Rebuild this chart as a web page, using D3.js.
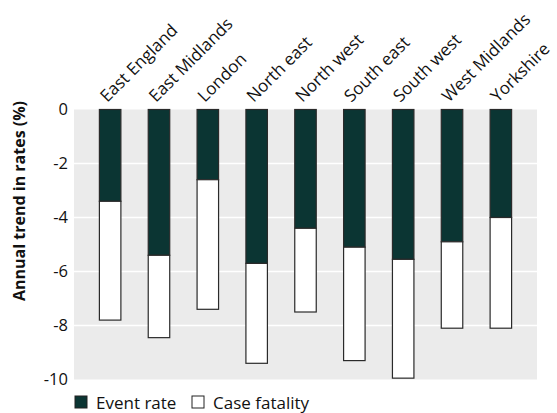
<!DOCTYPE html>
<meta charset="utf-8">
<style>
body { margin: 0; background: #fff; }
text { font-family: "Open Sans", sans-serif; fill: #111; }
</style>
<svg width="557" height="413"></svg>
<script src="https://d3js.org/d3.v7.min.js"></script>
<script>

var regions = ["East England", "East Midlands", "London", "North east", "North west",
               "South east", "South west", "West Midlands", "Yorkshire"];
// annual trend in event rate (%)
var eventRate = [-3.4, -5.4, -2.6, -5.7, -4.4, -5.1, -5.55, -4.9, -4.0];
// additional trend from case fatality (%), stacked below event rate
var caseFatality = [-4.4, -3.05, -4.8, -3.7, -3.1, -4.2, -4.4, -3.2, -4.1];
var yTicks = [0, -2, -4, -6, -8, -10];

var svg = d3.select("svg"),
    plotL = 74, plotR = 537, plotT = 109.5, plotB = 379.5;

var x = d3.scaleBand().domain(regions).range([plotL, plotR])
    .paddingInner(0.56).paddingOuter(0.52);
var y = d3.scaleLinear().domain([0, -10]).range([plotT, plotB]);

svg.append("rect")
    .attr("x", plotL).attr("y", plotT)
    .attr("width", plotR - plotL).attr("height", plotB - plotT)
    .attr("fill", "#ebebeb");

svg.append("g").selectAll("line")
  .data(yTicks.filter(d => d != 0 && d != -10))
  .enter().append("line")
    .attr("x1", plotL).attr("x2", plotR)
    .attr("y1", d => y(d)).attr("y2", d => y(d))
    .attr("stroke", "#fff").attr("stroke-width", 1.5);

var yAxis = svg.append("g")
    .attr("transform", "translate(" + plotL + ",0)")
    .call(d3.axisLeft(y).tickValues(yTicks).tickSize(0).tickPadding(6)
      .tickFormat(d => String(d)));
yAxis.select(".domain").remove();
yAxis.selectAll("text").attr("font-size", 16.5).attr("font-family", "Open Sans").attr("fill", "#111");

svg.append("text")
    .attr("transform", "translate(25,201) rotate(-90)")
    .attr("text-anchor", "middle")
    .attr("font-size", 16).attr("font-weight", "bold")
    .text("Annual trend in rates (%)");

// stacks
var bars = svg.append("g");
bars.selectAll("rect.ev")
  .data(regions)
  .enter().append("rect")
    .attr("class", "ev")
    .attr("x", d => x(d)).attr("width", x.bandwidth())
    .attr("y", y(0))
    .attr("height", (d, i) => y(eventRate[i]) - y(0))
    .attr("fill", "#0b3533").attr("stroke", "#2a2a2a").attr("stroke-width", 1.2);
bars.selectAll("rect.cf")
  .data(regions)
  .enter().append("rect")
    .attr("class", "cf")
    .attr("x", d => x(d)).attr("width", x.bandwidth())
    .attr("y", (d, i) => y(eventRate[i]))
    .attr("height", (d, i) => y(eventRate[i] + caseFatality[i]) - y(eventRate[i]))
    .attr("fill", "#fff").attr("stroke", "#2a2a2a").attr("stroke-width", 1.2);

// category labels
svg.append("g").selectAll("text")
  .data(regions)
  .enter().append("text")
    .attr("transform", d => "translate(" + (x(d) + x.bandwidth() / 2 - 3) + ",103) rotate(-45)")
    .attr("font-size", 17)
    .text(d => d);

// legend
var legend = [["Event rate", "#0b3533"], ["Case fatality", "#fff"]];
var lg = svg.append("g").selectAll("g")
  .data(legend)
  .enter().append("g")
    .attr("transform", (d, i) => "translate(" + (75 + i * 117) + ",396)");
lg.append("rect")
    .attr("width", 12).attr("height", 12)
    .attr("fill", d => d[1]).attr("stroke", "#222").attr("stroke-width", 1);
lg.append("text")
    .attr("x", 21).attr("y", 12.5)
    .attr("font-size", 17)
    .text(d => d[0]);

</script>
